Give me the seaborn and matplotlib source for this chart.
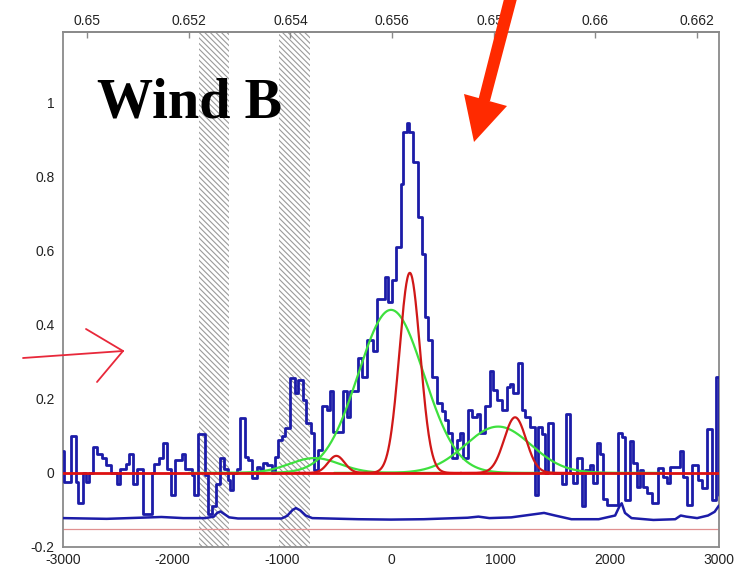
import numpy as np
import pandas as pd
import matplotlib
matplotlib.use("Agg")
import matplotlib.pyplot as plt
from matplotlib.patches import Polygon
from matplotlib.lines import Line2D
import seaborn as sns

# ---------------- data ----------------
# observed spectrum: left bin edges (km/s) and flux in each bin
bin_left = [-3000, -2990, -2930, -2885, -2860, -2820, -2789, -2759, -2722, -2692,
            -2646, -2606, -2561, -2509, -2478, -2423, -2393, -2356, -2320, -2265,
            -2189, -2164, -2119, -2088, -2052, -2015, -1975, -1915, -1884, -1823,
            -1799, -1768, -1701, -1677, -1634, -1604, -1564, -1524, -1494, -1472,
            -1442, -1411, -1381, -1335, -1305, -1274, -1229, -1198, -1168, -1137,
            -1091, -1061, -1030, -1000, -970, -923, -878, -848, -802, -777,
            -735, -704, -665, -634, -588, -558, -527, -436, -405, -375,
            -299, -268, -223, -162, -131, -55, -24, 6, 46, 88,
            113, 143, 168, 204, 250, 281, 311, 341, 372, 418,
            464, 494, 524, 560, 601, 631, 662, 700, 738, 783,
            814, 860, 905, 936, 966, 1012, 1058, 1088, 1119, 1164,
            1195, 1225, 1271, 1317, 1347, 1378, 1408, 1439, 1485, 1561,
            1600, 1637, 1668, 1698, 1744, 1775, 1820, 1851, 1881, 1912,
            1942, 1973, 2080, 2110, 2140, 2186, 2217, 2253, 2278, 2308,
            2345, 2384, 2445, 2491, 2522, 2552, 2644, 2674, 2705, 2750,
            2811, 2842, 2888, 2934, 2975, 3000]
bin_flux = [0.06, -0.025, 0.10, -0.025, -0.08, 0.0, -0.025, 0.0, 0.07, 0.05,
            0.04, 0.02, 0.0, -0.03, 0.01, 0.025, 0.05, -0.03, 0.01, -0.11,
            0.0, 0.025, 0.04, 0.08, 0.01, -0.06, 0.035, 0.05, 0.01, -0.005,
            -0.06, 0.105, -0.005, -0.11, -0.09, -0.03, 0.04, 0.01, -0.02, -0.046,
            0.0, 0.01, 0.148, 0.044, 0.035, -0.014, 0.015, 0.01, 0.026, 0.02,
            0.0, 0.044, 0.09, 0.10, 0.12, 0.256, 0.215, 0.252, 0.197, 0.134,
            0.107, 0.008, 0.062, 0.18, 0.17, 0.22, 0.11, 0.22, 0.15, 0.22,
            0.31, 0.26, 0.36, 0.33, 0.47, 0.53, 0.46, 0.52, 0.61, 0.78,
            0.92, 0.945, 0.92, 0.84, 0.69, 0.59, 0.42, 0.36, 0.26, 0.19,
            0.166, 0.143, 0.107, 0.04, 0.09, 0.107, 0.04, 0.17, 0.15, 0.16,
            0.107, 0.18, 0.274, 0.224, 0.197, 0.17, 0.233, 0.24, 0.215, 0.296,
            0.17, 0.152, 0.125, -0.06, 0.125, 0.104, 0.0, 0.134, 0.0, -0.03,
            0.16, 0.0, -0.028, 0.04, -0.09, 0.008, 0.02, -0.028, 0.08, 0.05,
            -0.07, -0.086, 0.107, 0.098, -0.073, 0.085, 0.026, -0.037, 0.008, -0.037,
            -0.055, -0.082, 0.013, -0.01, -0.028, 0.017, 0.058, -0.01, -0.086, 0.022,
            -0.02, -0.041, 0.118, -0.073, 0.26, -0.06]

# error spectrum (offset below zero)
err_v = [-3000, -2600, -2300, -2100, -1900, -1700, -1620, -1590, -1560, -1520,
         -1480, -1400, -1000, -950, -900, -870, -830, -780, -720, -300,
         0, 300, 700, 800, 900, 1100, 1300, 1400, 1500, 1650,
         1900, 2050, 2090, 2110, 2140, 2200, 2400, 2600, 2650, 2700,
         2800, 2900, 2960, 3000]
err_f = [-0.122, -0.124, -0.121, -0.119, -0.122, -0.122, -0.118, -0.108, -0.104, -0.112,
         -0.12, -0.123, -0.123, -0.116, -0.100, -0.095, -0.101, -0.115, -0.122, -0.125,
         -0.126, -0.125, -0.121, -0.118, -0.122, -0.120, -0.112, -0.108, -0.115, -0.125,
         -0.125, -0.115, -0.090, -0.082, -0.108, -0.122, -0.127, -0.125, -0.115, -0.118,
         -0.122, -0.115, -0.105, -0.088]

# fitted components: centre (km/s), peak, width sigma (km/s)
broad_centre = [0, 980, -700]
broad_peak = [0.44, 0.125, 0.04]
broad_sigma = [300, 300, 230]

narrow_centre = [172, 1135, -500]
narrow_peak = [0.54, 0.15, 0.046]
narrow_sigma = [95, 100, 75]

# wavelength ranges masked out, in km/s
masked_ranges = [(-1756, -1482), (-1024, -741)]

y_ticks = [-0.2, 0, 0.2, 0.4, 0.6, 0.8, 1]
x_ticks = [-3000, -2000, -1000, 0, 1000, 2000, 3000]
wl_ticks = [0.650, 0.652, 0.654, 0.656, 0.658, 0.660, 0.662]

# ---------------- style ----------------
sns.set_theme(style="white")
plt.rcParams["font.family"] = ["Liberation Sans", "DejaVu Sans"]
plt.rcParams["axes.unicode_minus"] = False
plt.rcParams["hatch.linewidth"] = 0.8

BLUE = "#1c1ca8"
GREEN = "#3ee03e"
RED = "#d01818"
FRAME = "#8a8a8a"

fig = plt.figure(figsize=(7.5, 5.74), dpi=100)
ax = fig.add_axes([63 / 750, 1 - 547 / 574, 656 / 750, 515 / 574])

# masked regions
for lo, hi in masked_ranges:
    ax.axvspan(lo, hi, facecolor="none", edgecolor="#9a9a9a", hatch="\\\\\\\\\\\\",
               linewidth=0, zorder=0)

# spectrum as a step line
spec = pd.DataFrame({"v": bin_left, "flux": bin_flux})
sns.lineplot(data=spec, x="v", y="flux", ax=ax, color=BLUE, linewidth=2.0,
             drawstyle="steps-post", sort=False, estimator=None, zorder=3)

err = pd.DataFrame({"v": err_v, "flux": err_f})
sns.lineplot(data=err, x="v", y="flux", ax=ax, color=BLUE, linewidth=1.8,
             sort=False, estimator=None, zorder=3)

# Gaussian components
grid = np.linspace(-3000, 3000, 1201)
for c, a, s in zip(broad_centre, broad_peak, broad_sigma):
    lo = max(-3000, c - 5 * s)
    hi = min(3000, c + 5 * s)
    g = grid[(grid >= lo) & (grid <= hi)]
    sns.lineplot(x=g, y=a * np.exp(-0.5 * ((g - c) / s) ** 2), ax=ax,
                 color=GREEN, linewidth=1.6, zorder=4)
for c, a, s in zip(narrow_centre, narrow_peak, narrow_sigma):
    g = grid[(grid >= c - 5 * s) & (grid <= c + 5 * s)]
    sns.lineplot(x=g, y=a * np.exp(-0.5 * ((g - c) / s) ** 2), ax=ax,
                 color=RED, linewidth=1.6, zorder=5)

# zero level and reference level
ax.axhline(0, color="#dd1111", linewidth=2.0, zorder=5)
ax.axhline(-0.151, color="#e09090", linewidth=0.9, zorder=2)

ax.set_xlim(-3000, 3000)
ax.set_ylim(-0.2, 1.19)
ax.set_xticks(x_ticks)
ax.set_xticklabels([f"{t:g}" for t in x_ticks])
ax.set_yticks(y_ticks)
ax.set_yticklabels([f"{t:g}" for t in y_ticks])
ax.set_xlabel("")
ax.set_ylabel("")
ax.tick_params(axis="both", direction="in", length=4, width=1, color=FRAME,
               labelsize=10, labelcolor="#222222", pad=4)
ax.tick_params(axis="y", pad=6)
for sp in ax.spines.values():
    sp.set_color(FRAME)
    sp.set_linewidth(1.3)
    sp.set_visible(True)

# wavelength axis on top (microns)
LAM0 = 0.65598
DLDV = 2.154e-6
top = ax.secondary_xaxis("top", functions=(lambda v: LAM0 + DLDV * v,
                                             lambda l: (l - LAM0) / DLDV))
top.set_xticks(wl_ticks)
top.set_xticklabels([f"{t:g}" for t in wl_ticks])
top.tick_params(direction="in", length=4, width=1, color=FRAME, labelsize=10,
                labelcolor="#222222", pad=3)
top.spines["top"].set_color(FRAME)
top.spines["top"].set_linewidth(1.3)

# title label inside the panel
fig.text(97 / 750, 1 - 117 / 574, "Wind B", fontsize=40.5, fontweight="bold",
         family=["Liberation Serif", "DejaVu Serif"], color="black",
         va="baseline", ha="left", zorder=10)


def fx(px):
    return px / 750


def fy(py):
    return 1 - py / 574


# thin pointer on the left
arrow_col = "#e8283a"
for (x0, y0), (x1, y1) in [((23, 358), (123, 351)), ((86, 329), (123, 351)),
                           ((97, 382), (123, 351))]:
    fig.add_artist(Line2D([fx(x0), fx(x1)], [fy(y0), fy(y1)], color=arrow_col,
                          linewidth=1.3, transform=fig.transFigure))

# bold pointer at the top
shaft = [(505, -5), (518, -5), (490, 101), (478, 101)]
head = [(464, 94), (507, 106), (474, 142)]
for pts in (shaft, head):
    fig.add_artist(Polygon([(fx(x), fy(y)) for x, y in pts], closed=True,
                           facecolor="#ff2a00", edgecolor="none",
                           transform=fig.transFigure, zorder=20))

fig.savefig("out.png", dpi=100)
